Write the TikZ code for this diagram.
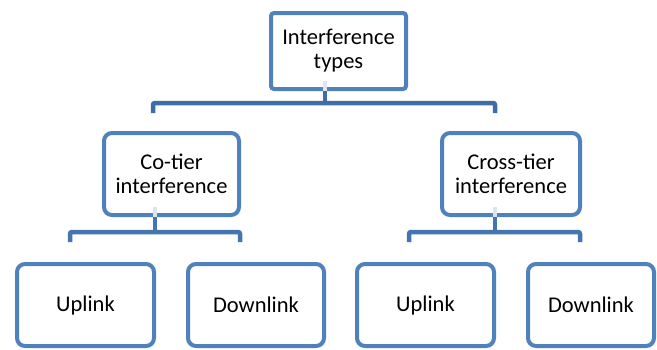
\documentclass[tikz,border=0pt]{standalone}
\usepackage{fontspec}
\setmainfont{Carlito}
\usetikzlibrary{calc}
\definecolor{boxblue}{HTML}{4F81BD}
\definecolor{connblue}{HTML}{4575B0}
\definecolor{topconn}{HTML}{3F6DA6}
\definecolor{fadeblue}{HTML}{DCE4EF}
\begin{document}
\begin{tikzpicture}[x=1pt,y=-1pt,
  box/.style={draw=boxblue, line width=4pt, fill=white, rounded corners=8pt,
    minimum height=82pt, align=center, font=\fontsize{22.5}{24}\selectfont, inner sep=0pt},
  conn/.style={draw=connblue, line width=4.5pt, rounded corners=2pt},
  fade/.style={draw=fadeblue, line width=4.5pt}]
\useasboundingbox (0,0) rectangle (657,349);
\fill[white] (0,0) rectangle (657,349);
% top
\node[box, rounded corners=3pt, minimum width=135pt, minimum height=76pt] (top) at (338.5,51) {Interference\\types};
% middle
\node[box, minimum width=135pt] (co) at (171.5,174) {Co-tier\\interference};
\node[box, minimum width=138pt] (cross) at (511,174) {Cross-tier\\interference};
% bottom
\node[box, minimum width=137pt] (up1) at (85.5,305) {Uplink};
\node[box, minimum width=136pt] (down1) at (256,305) {Downlink};
\node[box, minimum width=137pt] (up2) at (425.5,305) {Uplink};
\node[box, minimum width=126pt] (down2) at (591,305) {Downlink};
% connector coordinates
\coordinate (t0) at (top.south -| 325,0);
\coordinate (tb) at (325,103);
\coordinate (tl) at (153,113);
\coordinate (tr) at (495,113);
\coordinate (c0) at (co.south -| 155,0);
\coordinate (cb) at (155,232);
\coordinate (cl) at (70,242);
\coordinate (cr) at (240,242);
\coordinate (x0) at (cross.south -| 495,0);
\coordinate (xb) at (495,232);
\coordinate (xl) at (409,242);
\coordinate (xr) at (580,242);
% faint stem starts
\draw[fade] ($(t0)+(0,-10)$) -- (t0);
\draw[fade] ($(c0)+(0,-10)$) -- (c0);
\draw[fade] ($(x0)+(0,-10)$) -- (x0);
% connectors
\draw[conn, draw=topconn] (t0) -- (tb);
\draw[conn, draw=topconn] (tl) -- (tl |- tb) -- (tr |- tb) -- (tr);
\draw[conn] (c0) -- (cb);
\draw[conn] (cl) -- (cl |- cb) -- (cr |- cb) -- (cr);
\draw[conn] (x0) -- (xb);
\draw[conn] (xl) -- (xl |- xb) -- (xr |- xb) -- (xr);
\end{tikzpicture}
\end{document}
